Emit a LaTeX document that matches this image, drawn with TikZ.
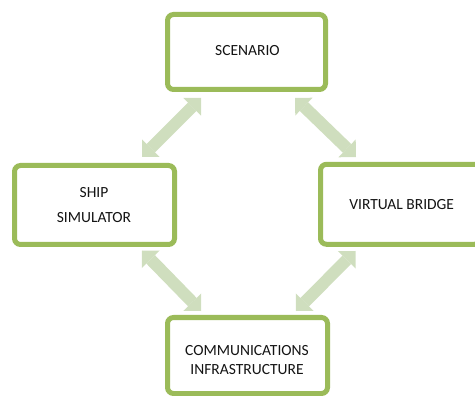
\documentclass[tikz,border=0pt]{standalone}
\usepackage{fontspec}
\setmainfont{Carlito}
\usetikzlibrary{arrows.meta}
\definecolor{framegreen}{RGB}{155,187,89}
\definecolor{linkgreen}{RGB}{207,222,190}
\definecolor{inktext}{RGB}{20,20,20}
\tikzset{
  box/.style={draw=framegreen, line width=5pt, rounded corners=6pt,
    fill=white, inner sep=0pt},
  caption/.style={text=inktext, align=center, inner sep=0pt},
  link/.style={draw=linkgreen, line width=12pt,
    {Triangle[length=12.4pt,width=24.8pt,line width=0pt]}-{Triangle[length=12.4pt,width=24.8pt,line width=0pt]}}
}
\begin{document}
\begin{tikzpicture}[x=1pt,y=-1pt]
  \clip (0,0) rectangle (475,396);

  % frames
  \node[box, minimum width=158pt, minimum height=75pt] (scen) at (246.5,52) {};
  \node[box, minimum width=160pt, minimum height=79pt] (ship) at (94.5,205) {};
  \node[box, minimum width=160pt, minimum height=80pt] (vb)   at (400.5,204.3) {};
  \node[box, minimum width=160pt, minimum height=76pt] (comm) at (247.5,355.5) {};

  % captions
  \node[caption, font=\fontsize{15.5}{18}\selectfont] (scent) at (247.5,50.3) {SCENARIO};
  \node[caption, font=\fontsize{15.5}{25}\selectfont] (shipt) at (94,205) {SHIP\\SIMULATOR};
  \node[caption, font=\fontsize{15.5}{18}\selectfont] (vbt) at (401.7,205) {VIRTUAL BRIDGE};
  \node[caption, font=\fontsize{15.5}{18.3}\selectfont] (commt) at (247,360) {COMMUNICATIONS\\INFRASTRUCTURE};

  % end points of the double-headed links
  \coordinate (scen-sw) at (201,98);
  \coordinate (ship-ne) at (142,157);
  \coordinate (scen-se) at (295,98);
  \coordinate (vb-nw)   at (356,157);
  \coordinate (ship-se) at (142,250.5);
  \coordinate (comm-nw) at (201,311);
  \coordinate (vb-sw)   at (355.5,251);
  \coordinate (comm-ne) at (296,311);

  % links
  \draw[link] (scen-sw) -- (ship-ne);
  \draw[link] (scen-se) -- (vb-nw);
  \draw[link] (ship-se) -- (comm-nw);
  \draw[link] (vb-sw) -- (comm-ne);
\end{tikzpicture}
\end{document}
